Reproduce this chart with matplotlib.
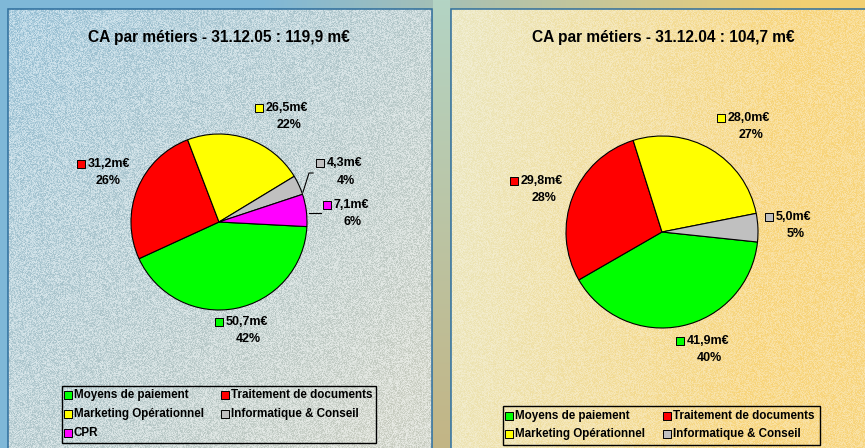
import numpy as np
import matplotlib
matplotlib.use('Agg')
import matplotlib.pyplot as plt
from matplotlib.patches import Rectangle
from matplotlib.colors import to_rgb

plt.rcParams['font.family'] = ['Liberation Sans', 'DejaVu Sans']

# donnees
metiers = ['Moyens de paiement', 'Traitement de documents', 'Marketing Opérationnel',
           'Informatique & Conseil', 'CPR']
couleurs = ['#00ff00', '#ff0000', '#ffff00', '#c0c0c0', '#ff00ff']
ca_2005 = [50.7, 31.2, 26.5, 4.3, 7.1]
ca_2004 = [41.9, 29.8, 28.0, 5.0]
total_2005 = 119.9
total_2004 = 104.7
dates = ['31.12.05', '31.12.04']

W, H = 865, 448

def fmt(v):
    return f"{v:.1f}".replace('.', ',')

# fond (degrades + grain)
yy, xx = np.mgrid[0:H, 0:W].astype(float)
grain = np.abs(np.modf(np.sin(xx * 12.9898 + yy * 78.233) * 43758.5453)[0])

def lerp(c1, c2, t):
    c1 = np.array(to_rgb(c1)); c2 = np.array(to_rgb(c2))
    return c1 * (1 - t[..., None]) + c2 * t[..., None]

tx = xx / W
ty = yy / H
img = lerp('#7fb8d8', '#f2cf72', np.clip((tx - 0.3) * 1.6, 0, 1))
gap = lerp('#b3d4c4', '#c3b585', ty)
m_gap = (xx > 432) & (xx < 450)
img[m_gap] = gap[m_gap]

g = grain[..., None]
left = lerp('#98c6de', '#d0d5c8', np.clip(0.6 * (xx - 7) / 425 + 0.5 * ty, 0, 1))
left = left * (0.94 + 0.06 * g) * (1 - 0.55 * g) + 0.55 * g
m_left = (xx >= 8) & (xx < 432) & (yy >= 9)
img[m_left] = left[m_left]

right = lerp('#e9e5bc', '#f7d274', np.clip((xx - 450) / 415 * 1.2 + 0.15 * ty, 0, 1))
right = right * (1 - 0.4 * g) + 0.4 * g
m_right = (xx >= 451) & (yy >= 9)
img[m_right] = right[m_right]

fig = plt.figure(figsize=(8.65, 4.48), dpi=100)
ax = fig.add_axes([0, 0, 1, 1])
ax.imshow(img, extent=(0, W, 0, H), origin='upper', zorder=0, interpolation='nearest')

def py(y):
    return H - y

for x0, x1 in [(7.5, 432), (450.5, 880)]:
    ax.add_patch(Rectangle((x0, -5), x1 - x0, py(8.5) + 5, facecolor='none',
                           edgecolor='#2f6e9c', linewidth=1.1, zorder=1))

# titres
for xc, d, tot in [(219, dates[0], total_2005), (663, dates[1], total_2004)]:
    ax.text(xc, py(37), f"CA par métiers - {d} : {fmt(tot)} m€", ha='center', va='center',
            fontsize=11.2, fontweight='bold', color='black', zorder=3)

# camemberts
wp = dict(edgecolor='black', linewidth=0.8)
ax.pie(ca_2005, colors=couleurs, startangle=-3, counterclock=False,
       center=(219, py(222)), radius=88, wedgeprops=wp, frame=True)
ax.pie(ca_2004, colors=couleurs[:4], startangle=-6, counterclock=False,
       center=(662, py(232)), radius=96, wedgeprops=wp, frame=True)

# etiquettes : (x carre, y ligne 1, x centre pourcentage, y ligne 2)
pos_2005 = [(219, 322, 248, 339), (81, 164, 108, 181), (259, 108, 289, 125),
            (320, 163, 346, 181), (327, 205, 353, 222)]
pos_2004 = [(680, 341, 709, 358), (514, 181, 544, 198), (721, 118, 751, 135),
            (769, 217, 796, 234)]

def etiquettes(vals, tot, pos):
    for v, c, (xs, y1, xp, y2) in zip(vals, couleurs, pos):
        ax.scatter([xs], [py(y1)], marker='s', s=28, color=c, edgecolors='black',
                   linewidths=0.7, zorder=4)
        ax.text(xs + 7, py(y1), f"{fmt(v)}m€", ha='left', va='center', fontsize=9,
                fontweight='bold', zorder=4)
        ax.text(xp, py(y2), f"{round(100 * v / tot)}%", ha='center', va='center',
                fontsize=9, fontweight='bold', zorder=4)

etiquettes(ca_2005, sum(ca_2005), pos_2005)
etiquettes(ca_2004, sum(ca_2004), pos_2004)

# lignes de rappel
ax.plot([303, 309, 313], [py(192), py(173), py(173)], color='black', lw=0.8, zorder=2)
ax.plot([309, 321], [py(213), py(213)], color='black', lw=0.8, zorder=2)

# legendes
def legende(x0, y0, x1, y1, rows, col2, noms):
    ax.add_patch(Rectangle((x0, py(y1)), x1 - x0, y1 - y0, facecolor='none',
                           edgecolor='black', linewidth=1.0, zorder=3))
    for i, (nom, c) in enumerate(zip(noms, couleurs)):
        r, k = divmod(i, 2)
        xs = x0 + 6 + k * col2
        ax.scatter([xs], [py(rows[r])], marker='s', s=30, color=c, edgecolors='black',
                   linewidths=0.7, zorder=4)
        ax.text(xs + 6, py(rows[r]), nom, ha='left', va='center', fontsize=8.4,
                fontweight='bold', zorder=4)

legende(62, 386, 376, 443, [395, 414, 433], 157, metiers)
legende(503, 406, 820, 445, [416, 434], 158, metiers[:4])

ax.set_xlim(0, W)
ax.set_ylim(0, H)
ax.set_aspect('auto')
ax.axis('off')

fig.savefig('out.png', dpi=100)
